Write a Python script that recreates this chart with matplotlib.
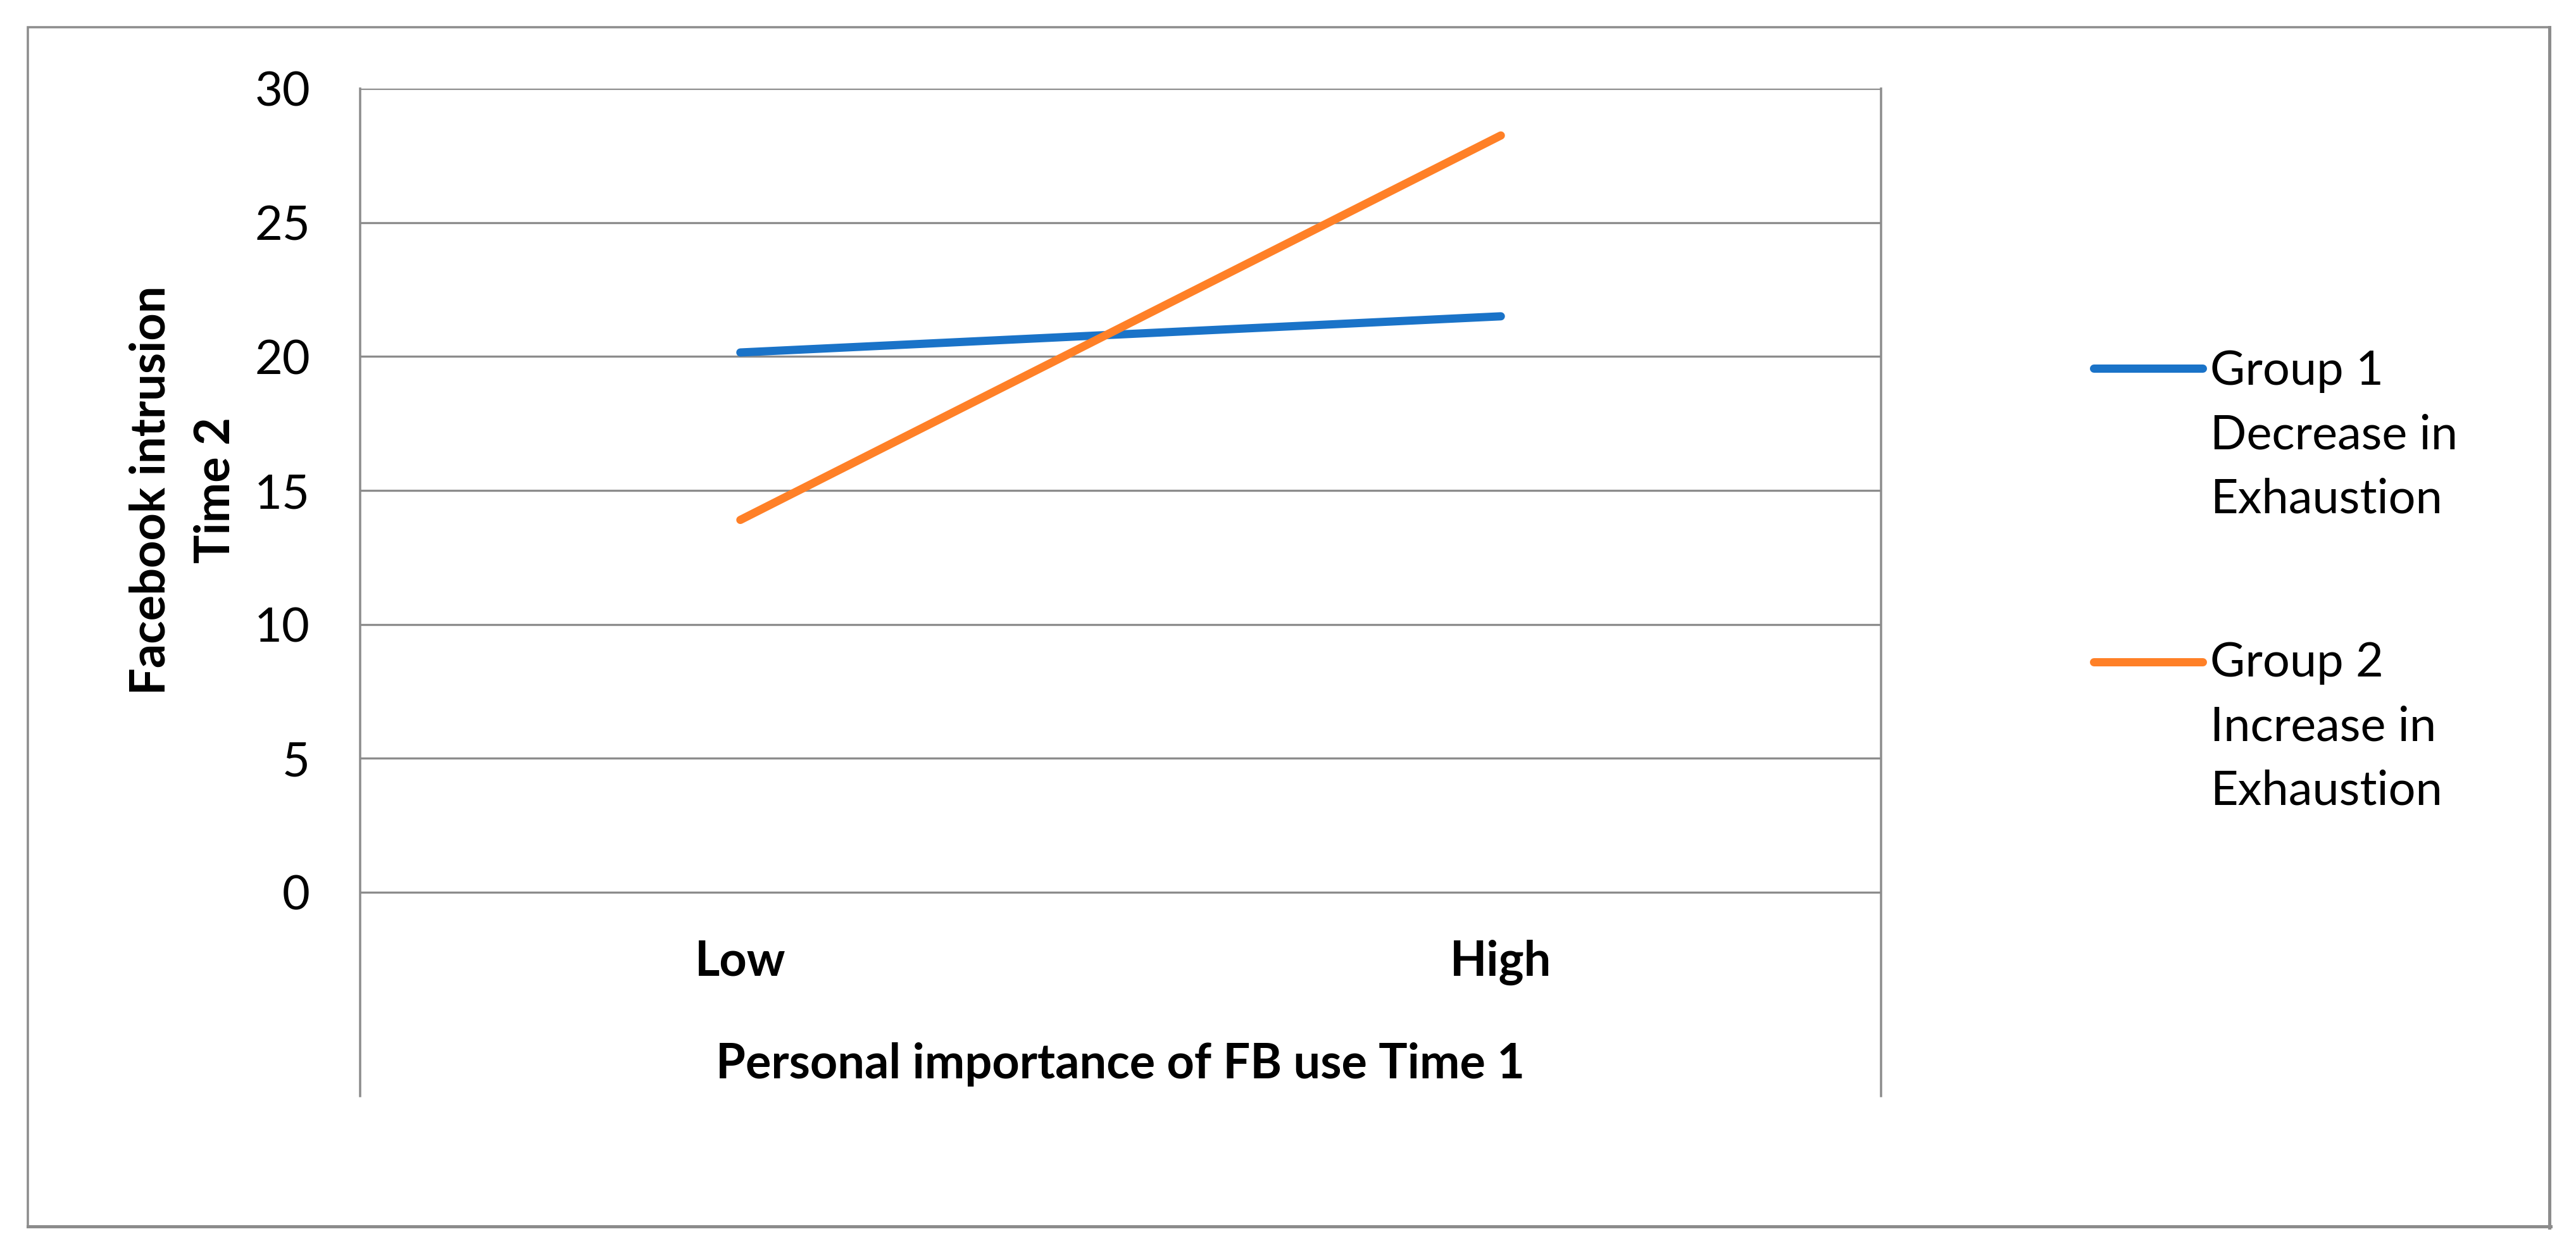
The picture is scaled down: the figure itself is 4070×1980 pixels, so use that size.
import matplotlib
matplotlib.use('Agg')
import matplotlib.pyplot as plt
from matplotlib.lines import Line2D
from matplotlib.patches import Rectangle

# ---- data ----
categories = ["Low", "High"]
group1_values = [20.15, 21.5]
group2_values = [13.9, 28.25]
series_labels = [["Group 1", "Decrease in", "Exhaustion"],
                 ["Group 2", "Increase in", "Exhaustion"]]
y_ticks = [0, 5, 10, 15, 20, 25, 30]
x_title = "Personal importance of FB use Time 1"
y_title_lines = ["Facebook intrusion", "Time 2"]

# ---- style ----
W, H, DPI = 4070, 1980, 100
FONT = 'Lato'
plt.rcParams['font.family'] = [FONT, 'DejaVu Sans']
FS = 54.5
GRID = '#8c8c8c'
BLUE = '#1a73c8'
ORANGE = '#ff8027'
colors = [BLUE, ORANGE]

fig = plt.figure(figsize=(W / DPI, H / DPI), dpi=DPI)


def fx(px):
    return px / W


def fy(py):
    return 1 - py / H


def pt(px):
    return px * 72 / DPI


# outer chart border
fig.patches.append(Rectangle((fx(44), fy(1939)), fx(4029) - fx(44), fy(43) - fy(1939),
                             transform=fig.transFigure, fill=False, ec=GRID, lw=pt(3.5)))
fig.lines.append(Line2D([fx(44), fx(4030)], [fy(1938), fy(1938)], transform=fig.transFigure,
                        color=GRID, lw=pt(5)))
fig.lines.append(Line2D([fx(4028), fx(4028)], [fy(43), fy(1940)], transform=fig.transFigure,
                        color=GRID, lw=pt(5)))

AX_L, AX_R, AX_T, AX_B = 569, 2972, 140, 1732
ZERO_PX = 1410
ax = fig.add_axes([fx(AX_L), fy(AX_B), fx(AX_R) - fx(AX_L), fy(AX_T) - fy(AX_B)])
upp = 30 / (ZERO_PX - AX_T)  # data units per pixel
ax.set_ylim(-(AX_B - ZERO_PX) * upp, 30)
ax.set_xlim(-0.5, len(categories) - 0.5)

for s in ['top', 'bottom']:
    ax.spines[s].set_visible(False)
for s in ['left', 'right']:
    ax.spines[s].set_color(GRID)
    ax.spines[s].set_linewidth(pt(3.5))

ax.set_yticks(y_ticks)
ax.set_yticklabels([str(v) for v in y_ticks])
ax.yaxis.grid(True, color=GRID, lw=pt(3.3))
ax.set_axisbelow(True)
ax.tick_params(axis='y', length=0, pad=pt(79), labelsize=FS)
ax.set_xticks([])

xpos = list(range(len(categories)))
for vals, c in zip([group1_values, group2_values], colors):
    ax.plot(xpos, vals, color=c, lw=pt(13), solid_capstyle='round', zorder=3)

# category labels (Excel-style, inside plot area below zero line)
for i, cat in enumerate(categories):
    ax.text(i, -(1542 - ZERO_PX) * upp, cat, ha='center', va='baseline',
            fontsize=FS, fontweight='bold')

# x axis title
ax.text(0.5, (AX_B - 1704) / (AX_B - AX_T), x_title, transform=ax.transAxes,
        ha='center', va='baseline', fontsize=FS, fontweight='bold')

# y axis title
for line, bx in zip(y_title_lines, [260, 362]):
    fig.text(fx(bx), fy(775), line, rotation=90, rotation_mode='anchor',
             ha='center', va='baseline', fontsize=FS, fontweight='bold')

# legend
leg_y = [582, 1046]
base_y = [608, 1069]
for k in range(len(series_labels)):
    fig.lines.append(Line2D([fx(3308), fx(3480)], [fy(leg_y[k])] * 2,
                            transform=fig.transFigure, color=colors[k], lw=pt(13),
                            solid_capstyle='round'))
    for j, line in enumerate(series_labels[k]):
        fig.text(fx(3492), fy(base_y[k] + j * 101.5), line, ha='left', va='baseline',
                 fontsize=FS)

fig.savefig('out.png', dpi=DPI, facecolor='white')
